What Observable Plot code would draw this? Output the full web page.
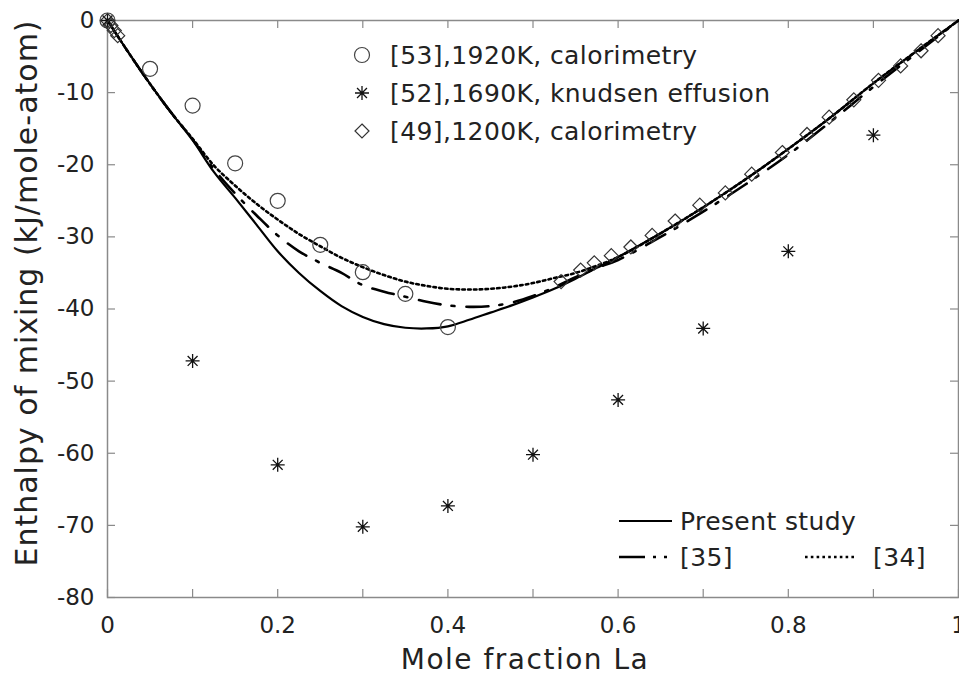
<!DOCTYPE html>
<html><head><meta charset="utf-8">
<script src="https://cdn.jsdelivr.net/npm/d3@7"></script>
<script src="https://cdn.jsdelivr.net/npm/@observablehq/plot@0.6"></script>
<style>
html,body{margin:0;padding:0;background:#fff;}
#chart{position:relative;width:959px;height:675px;}
</style></head><body><div id="chart"></div>
<script>
// ---- data ----
const curveX = [0, 0.025, 0.05, 0.075, 0.1, 0.125, 0.15, 0.175, 0.2, 0.225, 0.25, 0.275, 0.3, 0.325, 0.35, 0.375, 0.4, 0.425, 0.45, 0.475, 0.5, 0.525, 0.55, 0.575, 0.6, 0.65, 0.7, 0.75, 0.8, 0.85, 0.9, 0.95, 1];
const presentStudy = [0, -4.5, -8.8, -12.8, -16.6, -21.0, -24.6, -28.3, -32.0, -35.0, -37.5, -39.6, -41.1, -42.1, -42.6, -42.7, -42.4, -41.5, -40.5, -39.5, -38.4, -37.2, -35.8, -34.3, -32.8, -29.5, -25.9, -22.0, -17.8, -13.4, -8.7, -4.3, 0];
const ref35 = [0, -4.5, -8.8, -12.8, -16.5, -20.6, -24.0, -27.0, -29.8, -32.0, -33.6, -35.0, -36.7, -37.6, -38.3, -39.0, -39.5, -39.7, -39.6, -39.1, -38.2, -37.0, -35.6, -34.3, -33.2, -30.0, -26.5, -22.7, -18.6, -14.0, -9.2, -4.6, 0];
const ref34 = [0, -4.5, -8.8, -12.8, -16.4, -20.1, -22.9, -25.4, -27.6, -29.6, -31.3, -32.9, -34.2, -35.3, -36.2, -36.8, -37.2, -37.3, -37.2, -36.9, -36.4, -35.7, -35.0, -34.0, -32.8, -29.5, -25.9, -22.0, -17.8, -13.4, -8.7, -4.3, 0];

const cal53X = [0, 0.05, 0.1, 0.15, 0.2, 0.25, 0.3, 0.35, 0.4];
const cal53Y = [0, -6.7, -11.8, -19.8, -25.0, -31.1, -34.9, -37.9, -42.5];

const knud52X = [0, 0.1, 0.2, 0.3, 0.4, 0.5, 0.6, 0.7, 0.8, 0.9];
const knud52Y = [0, -47.2, -61.6, -70.2, -67.3, -60.2, -52.6, -42.7, -32.0, -15.9];

const cal49X = [0, 0.004, 0.008, 0.012, 0.533, 0.556, 0.572, 0.592, 0.615, 0.64, 0.667, 0.696, 0.726, 0.757, 0.793, 0.822, 0.848, 0.877, 0.906, 0.932, 0.956, 0.976];
const cal49Y = [0, -0.7, -1.4, -2.1, -36.2, -34.6, -33.6, -32.6, -31.4, -29.8, -27.8, -25.6, -23.9, -21.3, -18.3, -15.8, -13.4, -11.0, -8.3, -6.3, -4.2, -2.1];

const xTicks = [0, 0.1, 0.2, 0.3, 0.4, 0.5, 0.6, 0.7, 0.8, 0.9, 1];
const xTickLabels = [0, 0.2, 0.4, 0.6, 0.8, 1];
const yTicks = [0, -10, -20, -30, -40, -50, -60, -70, -80];

const xLabel = "Mole fraction La";
const yLabel = "Enthalpy of mixing (kJ/mole-atom)";
const legendTop = ["[53],1920K, calorimetry", "[52],1690K, knudsen effusion", "[49],1200K, calorimetry"];
const legendBottom = ["Present study", "[35]", "[34]"];

// ---- layout ----
const W = 959, H = 675, mL = 107, mR = 1, mT = 20, mB = 78;
const innerW = W - mL - mR, innerH = H - mT - mB;
const FONT = "'DejaVu Sans', sans-serif";
const axisCol = "#8a8a8a";

const asterisk = {draw(ctx, size) {
  const r = Math.sqrt(size / Math.PI), d = r * 0.7071;
  ctx.moveTo(-r, 0); ctx.lineTo(r, 0);
  ctx.moveTo(0, -r); ctx.lineTo(0, r);
  ctx.moveTo(-d, -d); ctx.lineTo(d, d);
  ctx.moveTo(-d, d); ctx.lineTo(d, -d);
}};
const diamond = {draw(ctx, size) {
  const r = Math.sqrt(size / Math.PI);
  ctx.moveTo(0, -r); ctx.lineTo(r, 0); ctx.lineTo(0, r); ctx.lineTo(-r, 0); ctx.closePath();
}};

const curves = curveX.map((x, i) => ({x, present: presentStudy[i], r35: ref35[i], r34: ref34[i]}));
const cal53 = cal53X.map((x, i) => ({x, y: cal53Y[i]}));
const knud52 = knud52X.map((x, i) => ({x, y: knud52Y[i]}));
const cal49 = cal49X.map((x, i) => ({x, y: cal49Y[i]}));

const plot = Plot.plot({
  width: W, height: H,
  marginLeft: mL, marginRight: mR, marginTop: mT, marginBottom: mB,
  style: {fontFamily: FONT, fontSize: "23px", color: "#222", background: "#fff"},
  x: {domain: [0, 1], axis: null},
  y: {domain: [-80, 0], axis: null},
  marks: [
    Plot.frame({stroke: axisCol, strokeWidth: 1.5}),
    Plot.tickX(xTicks, {x: d => d, insetTop: innerH - 8, stroke: axisCol, strokeWidth: 1.2}),
    Plot.tickX(xTicks, {x: d => d, insetBottom: innerH - 8, stroke: axisCol, strokeWidth: 1.2}),
    Plot.tickY(yTicks, {y: d => d, insetRight: innerW - 8, stroke: axisCol, strokeWidth: 1.2}),
    Plot.tickY(yTicks, {y: d => d, insetLeft: innerW - 8, stroke: axisCol, strokeWidth: 1.2}),
    Plot.axisX(xTickLabels, {tickSize: 0, tickPadding: 19, tickFormat: d => String(d), label: null, fill: "#222"}),
    Plot.axisY(yTicks, {tickSize: 0, tickPadding: 13, tickFormat: d => String(d), label: null, fill: "#222"}),
    Plot.line(curves, {x: "x", y: "r34", stroke: "#000", strokeWidth: 2.6, strokeDasharray: "2.6,3.2", curve: "catmull-rom"}),
    Plot.line(curves, {x: "x", y: "r35", stroke: "#000", strokeWidth: 2.6, strokeDasharray: "22,11,3,12", curve: "catmull-rom"}),
    Plot.line(curves, {x: "x", y: "present", stroke: "#000", strokeWidth: 2.2, curve: "catmull-rom"}),
    Plot.dot(cal53, {x: "x", y: "y", r: 7.5, fill: "none", stroke: "#444", strokeWidth: 1.2}),
    Plot.dot(knud52, {x: "x", y: "y", r: 7, symbol: asterisk, fill: "none", stroke: "#111", strokeWidth: 1.3}),
    Plot.dot(cal49, {x: "x", y: "y", r: 7, symbol: diamond, fill: "none", stroke: "#333", strokeWidth: 1.2})
  ]
});

document.getElementById("chart").appendChild(plot);

// ---- axis labels and legends ----
const svg = d3.select(plot);
svg.append("text").attr("x", 525).attr("y", 669).attr("text-anchor", "middle")
  .attr("font-family", FONT).attr("font-size", 28).attr("letter-spacing", 1.5).attr("fill", "#222").text(xLabel);
svg.append("text").attr("transform", "translate(37,293) rotate(-90)").attr("text-anchor", "middle")
  .attr("font-family", FONT).attr("font-size", 30).attr("letter-spacing", 1).attr("fill", "#222").text(yLabel);

const lg = svg.append("g").attr("font-family", FONT).attr("font-size", 25).attr("letter-spacing", 0.4).attr("fill", "#222").attr("text-anchor", "start");
const topRows = [55, 93, 131];
const symPath = (sym, r) => d3.symbol(sym, r * r * Math.PI)();
lg.append("circle").attr("cx", 362).attr("cy", topRows[0]).attr("r", 7.5).attr("fill", "none").attr("stroke", "#444").attr("stroke-width", 1.2);
lg.append("path").attr("transform", `translate(362,${topRows[1]})`).attr("d", symPath(asterisk, 7)).attr("fill", "none").attr("stroke", "#111").attr("stroke-width", 1.3);
lg.append("path").attr("transform", `translate(362,${topRows[2]})`).attr("d", symPath(diamond, 7)).attr("fill", "none").attr("stroke", "#333").attr("stroke-width", 1.2);
legendTop.forEach((t, i) => lg.append("text").attr("x", 390).attr("y", topRows[i]).attr("dy", "0.35em").text(t));

const by1 = 521, by2 = 557;
lg.append("line").attr("x1", 619).attr("x2", 672).attr("y1", by1).attr("y2", by1).attr("stroke", "#000").attr("stroke-width", 2.2);
lg.append("text").attr("x", 680).attr("y", by1).attr("dy", "0.35em").text(legendBottom[0]);
lg.append("line").attr("x1", 619).attr("x2", 672).attr("y1", by2).attr("y2", by2).attr("stroke", "#000").attr("stroke-width", 2.6).attr("stroke-dasharray", "26,8,3,8,3,100");
lg.append("text").attr("x", 680).attr("y", by2).attr("dy", "0.35em").text(legendBottom[1]);
lg.append("line").attr("x1", 805).attr("x2", 855).attr("y1", by2).attr("y2", by2).attr("stroke", "#000").attr("stroke-width", 2.6).attr("stroke-dasharray", "2.6,3.2");
lg.append("text").attr("x", 873).attr("y", by2).attr("dy", "0.35em").text(legendBottom[2]);
</script>
</body></html>
